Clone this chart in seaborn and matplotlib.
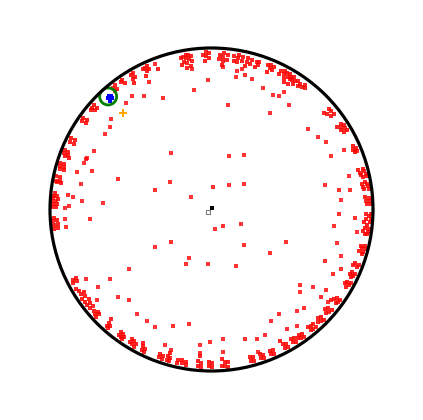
import numpy as np
import matplotlib
matplotlib.use('Agg')
import matplotlib.pyplot as plt
import seaborn as sns

# 边缘簇 (角度, 半径) - 上半圆
upper_theta = [97.5, 97.5, 98.5, 98.5, 99.5, 99.5, 99.5, 100.5, 100.5, 101.5, 101.5, 98, 100,
               91, 91, 92, 92, 92.5, 93,
               84, 84, 85.5, 85.5, 85.5, 87, 87, 86,
               78.5, 78.5, 80, 80, 80, 81.5, 81.5,
               75, 75, 76.5, 76.5, 77,
               72, 72, 73, 73,
               66.5, 66.5, 67.5, 67.5, 68.5, 68,
               63.5, 63.5, 62, 62, 61, 61, 60, 60, 59, 59, 58, 58, 57, 57, 56, 55, 55, 53.5, 53, 52.5, 60.5, 58.5,
               38, 38, 39.5, 39.5, 40.5, 40.5,
               30.5, 30.5, 31.5, 31.5, 32.5, 32.5, 33.5, 33.5,
               22, 22, 23, 23, 24,
               12, 12, 13, 13, 14, 14, 15, 15,
               7.5, 7.5, 8.5, 8.5, 9.5, 9.5, 10,
               2, 2, 3, 3, 4, 4.5,
               179, 179, 178, 178, 177, 177, 176, 176, 175, 175, 174,
               168, 168, 169.5, 169.5, 170, 170,
               163, 163, 164, 164, 165, 165,
               158, 158, 159, 159, 160, 160,
               153, 153, 154.5, 154.5,
               144.5, 144.5, 145.5, 145.5,
               138.5, 138.5, 139.5, 139.5, 140.5,
               128, 128, 129, 129,
               124.5, 124.5, 125.5,
               120, 120, 121, 121, 121.5,
               114, 114, 115, 115, 116, 116, 111]
upper_r = [.96, .93, .965, .94, .97, .95, .92, .96, .93, .955, .91, .90, .89,
           .97, .94, .975, .95, .92, .96,
           .96, .93, .97, .945, .92, .96, .935, .90,
           .965, .94, .97, .95, .925, .96, .93,
           .96, .93, .965, .94, .91,
           .96, .94, .955, .925,
           .965, .94, .97, .95, .96, .92,
           .96, .94, .97, .95, .965, .93, .97, .95, .96, .94, .965, .945, .95, .925, .96, .95, .93, .94, .965, .95, .91, .91,
           .965, .94, .96, .93, .955, .92,
           .975, .95, .97, .94, .975, .95, .96, .93,
           .975, .955, .97, .95, .96,
           .985, .96, .98, .95, .975, .945, .97, .94,
           .985, .955, .98, .95, .975, .945, .965,
           .99, .965, .985, .96, .98, .955,
           .99, .96, .985, .955, .99, .965, .985, .95, .98, .96, .975,
           .985, .96, .98, .955, .97, .945,
           .98, .955, .975, .95, .97, .945,
           .98, .955, .975, .95, .965, .94,
           .975, .95, .97, .945,
           .975, .95, .97, .945,
           .975, .95, .97, .945, .965,
           .975, .95, .97, .945,
           .975, .95, .97,
           .975, .95, .97, .945, .92,
           .975, .95, .97, .945, .965, .92, .93]

# 边缘簇 - 下半圆
lower_theta = [-1.5, -1.5, -2.5, -3.5, -3.5, -4.5, -4.5, -5.5,
               -7, -7, -8, -8, -9, -9,
               -13.5, -13.5, -14.5, -14.5, -15.5, -15.5, -16.5,
               -20.5, -20.5, -21.5, -21.5,
               -24, -24, -25, -25, -26,
               -28, -28, -29, -29, -30,
               -35, -35, -36, -36, -37, -37,
               -40, -40, -41, -41, -42,
               -44.5, -44.5, -45.5, -45.5, -46.5,
               -48.5, -48.5, -49.5, -49.5, -50.5, -50.5,
               -54, -54, -55, -55, -56,
               -57.5, -57.5, -58.5, -58.5,
               -61, -61, -62, -62, -62.5,
               -66.5, -66.5, -67.5, -67.5,
               -70.5, -70.5, -71.5, -71.5,
               -74.5, -74.5, -75.5, -75.5,
               -84, -84, -85, -85, -86, -86,
               -90, -90, -91, -91,
               -94, -94, -95, -95, -94.5,
               -99.5, -99.5, -101, -101, -102.5, -102.5,
               -105.5, -105.5, -106.5, -106.5, -106,
               -108.5, -108.5, -109.5, -109.5,
               -115.5, -115.5, -116.5, -116.5, -117,
               -119.5, -119.5, -120.5, -120.5, -121.5, -121.5,
               -124.5, -124.5, -125.5, -125.5, -126.5, -126.5,
               -131, -131, -132, -132, -132.5,
               -137, -137, -138, -138, -139,
               -141, -141, -142.5, -142.5, -144, -144, -145.5, -145.5, -147, -147, -148.5, -149.5,
               -152, -152, -153, -153,
               -173, -173, -174.5, -174.5, -176, -176, -177]
lower_r = [.985, .955, .975, .99, .96, .985, .95, .97,
           .985, .955, .98, .95, .975, .96,
           .98, .955, .985, .96, .975, .95, .97,
           .975, .95, .97, .945,
           .975, .95, .97, .945, .96,
           .975, .95, .97, .945, .96,
           .975, .95, .97, .94, .965, .93,
           .97, .945, .965, .935, .955,
           .975, .95, .97, .94, .96,
           .975, .95, .97, .945, .965, .94,
           .975, .95, .97, .945, .96,
           .97, .945, .965, .94,
           .975, .95, .97, .94, .92,
           .975, .95, .97, .945,
           .975, .955, .97, .945,
           .975, .95, .97, .945,
           .98, .95, .975, .945, .97, .93,
           .975, .95, .97, .945,
           .975, .95, .97, .94, .91,
           .975, .955, .97, .95, .975, .955,
           .975, .955, .97, .945, .925,
           .975, .955, .97, .95,
           .975, .955, .97, .945, .93,
           .975, .955, .97, .945, .965, .94,
           .975, .955, .97, .945, .965, .94,
           .975, .955, .97, .945, .92,
           .975, .95, .97, .945, .96,
           .97, .945, .975, .95, .97, .94, .975, .95, .965, .94, .96, .975,
           .97, .945, .965, .94,
           .985, .96, .98, .955, .985, .96, .975]

# 内部散点 (x, y)
inner_x = [-0.49, -0.42, -0.30, -0.53, -0.62, -0.63, -0.66, -0.73, -0.77, -0.25, -0.11, -0.02, -0.12, -0.39, -0.35,
           0.07, 0.16, 0.19, 0.15, 0.21, 0.25, 0.32, 0.38, 0.42, 0.45, 0.48, 0.10, 0.36, 0.60, 0.66, 0.71, 0.74, 0.82, 0.11, 0.20,
           -0.78, -0.79, -0.74, -0.83, -0.81, -0.58, -0.35, -0.89, -0.86, -0.80, -0.88, -0.67, -0.91, -0.75, -0.91, -0.90,
           0.85, 0.70, 0.79, 0.86, 0.80, 0.79, 0.76, 0.46, 0.78, 0.80, 0.89, 0.90,
           0.20, 0.70, 0.15, 0.80, 0.75, 0.55, 0.55, 0.63, 0.71, 0.68, 0.72, 0.57, 0.53, 0.42, 0.37, 0.47, 0.53, 0.33, 0.28, 0.21, 0.07, 0.07, 0.29,
           -0.25, -0.14, -0.02, -0.51, -0.63, -0.78, -0.70, -0.58, -0.51, -0.71, -0.46, -0.40, -0.35, -0.24, -0.14, -0.29, -0.25, -0.07, -0.01, -0.07,
           -0.26, 0.01, 0.11, 0.20, -0.13, 0.07, 0.02, -0.35, 0.18, -0.16, 0.36]
inner_y = [0.70, 0.70, 0.69, 0.66, 0.56, 0.51, 0.47, 0.36, 0.32, 0.35, 0.74, 0.80, 0.87, 0.79, 0.90,
           0.88, 0.86, 0.87, 0.82, 0.83, 0.81, 0.75, 0.71, 0.70, 0.73, 0.65, 0.65, 0.60, 0.50, 0.45, 0.42, 0.33, 0.37, 0.33, 0.34,
           0.31, 0.29, 0.24, 0.23, 0.16, 0.19, 0.12, 0.09, 0.08, 0.05, 0.02, 0.04, 0.01, -0.06, -0.06, -0.11,
           0.21, 0.15, 0.12, 0.12, 0.06, -0.03, -0.10, -0.20, -0.21, -0.29, -0.05, -0.14,
           -0.22, -0.32, -0.35, -0.37, -0.40, -0.47, -0.51, -0.48, -0.50, -0.54, -0.57, -0.61, -0.63, -0.65, -0.69, -0.74, -0.72, -0.78, -0.80, -0.80, -0.80, -0.88, -0.88,
           -0.20, -0.30, -0.34, -0.37, -0.43, -0.43, -0.48, -0.54, -0.56, -0.56, -0.65, -0.69, -0.73, -0.72, -0.71, -0.84, -0.87, -0.84, -0.82, -0.89,
           0.17, 0.14, 0.15, 0.16, 0.08, -0.10, -0.12, -0.23, -0.09, -0.34, -0.27]

# 蓝色簇、橙色标记、中心点
blue_theta = [132, 132, 133, 133, 132.5, 131.5]
blue_r = [.945, .925, .94, .92, .935, .935]
target_xy = (-0.64, 0.70)
orange_xy = (-0.55, 0.60)
center_black = (0.0, 0.01)
center_open = (-0.02, -0.015)

sns.set_style('white')

fig = plt.figure(figsize=(4.23, 4.20), dpi=100)
ax = fig.add_axes([0, 0, 1, 1])

# 极坐标转直角坐标
t_up = np.deg2rad(upper_theta)
t_lo = np.deg2rad(lower_theta)
edge_x = np.concatenate([np.array(upper_r) * np.cos(t_up), np.array(lower_r) * np.cos(t_lo)])
edge_y = np.concatenate([np.array(upper_r) * np.sin(t_up), np.array(lower_r) * np.sin(t_lo)])

sns.scatterplot(x=edge_x, y=edge_y, color='red', marker='s', s=11, linewidth=0, alpha=0.85, ax=ax, legend=False)
sns.scatterplot(x=inner_x, y=inner_y, color='red', marker='s', s=5, linewidth=0, alpha=0.8, ax=ax, legend=False)

tb = np.deg2rad(blue_theta)
sns.scatterplot(x=np.array(blue_r) * np.cos(tb), y=np.array(blue_r) * np.sin(tb),
                color='blue', marker='s', s=11, linewidth=0, ax=ax, legend=False)

ax.scatter([target_xy[0]], [target_xy[1]], s=150, facecolors='none', edgecolors='green', linewidths=2)
ax.scatter([orange_xy[0]], [orange_xy[1]], marker='P', s=30, color='orange', linewidths=0)
ax.scatter([center_black[0]], [center_black[1]], marker='s', s=7, color='black', linewidths=0)
ax.scatter([center_open[0]], [center_open[1]], marker='s', s=9, facecolors='none', edgecolors='gray', linewidths=0.8)

# 外圈
ax.add_patch(plt.Circle((0, 0), 1, fill=False, lw=2.3, color='black'))

ax.set_xlim(-1.3096, 1.3096)
ax.set_ylim(-1.3034, 1.2972)
ax.axis('off')

plt.savefig('out.png', dpi=100)
